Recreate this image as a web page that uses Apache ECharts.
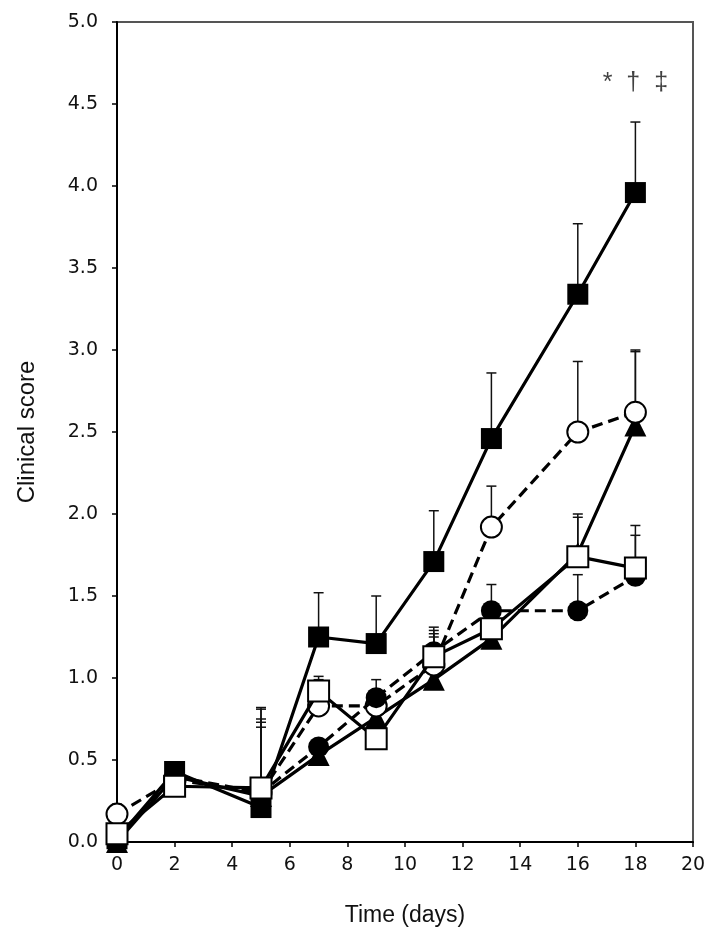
<!DOCTYPE html>
<html>
<head>
<meta charset="utf-8">
<script src="https://cdn.jsdelivr.net/npm/echarts@6/dist/echarts.min.js"></script>
<style>
html,body{margin:0;padding:0;background:#fff;}
#chart{width:719px;height:948px;}
</style>
</head>
<body>
<div id="chart"></div>
<script>
// ---- data ----
var days = [0, 2, 5, 7, 9, 11, 13, 16, 18];
var xTicks = [0, 2, 4, 6, 8, 10, 12, 14, 16, 18, 20];
var yTicks = [0.0, 0.5, 1.0, 1.5, 2.0, 2.5, 3.0, 3.5, 4.0, 4.5, 5.0];

var filledTriangle = [0.00, 0.40, 0.28, 0.53, 0.76, 0.99, 1.24, 1.76, 2.54];
var filledTriangleUpper = [null, null, 0.73, null, null, 1.25, null, 1.98, 2.99];

var filledSquare = [0.02, 0.43, 0.21, 1.25, 1.21, 1.71, 2.46, 3.34, 3.96];
var filledSquareUpper = [null, null, 0.82, 1.52, 1.50, 2.02, 2.86, 3.77, 4.39];

var openCircle = [0.17, 0.38, 0.30, 0.83, 0.83, 1.08, 1.92, 2.50, 2.62];
var openCircleUpper = [0.23, null, 0.81, 0.99, null, 1.31, 2.17, 2.93, 3.00];

var filledCircle = [0.02, 0.40, 0.30, 0.58, 0.88, 1.16, 1.41, 1.41, 1.62];
var filledCircleUpper = [null, null, 0.75, null, 0.99, 1.29, 1.57, 1.63, 1.87];

var openSquare = [0.05, 0.34, 0.33, 0.92, 0.63, 1.13, 1.30, 1.74, 1.67];
var openSquareUpper = [null, null, 0.70, 1.01, 0.70, 1.27, null, 2.00, 1.93];

var significance = '*  †  ‡';
var significanceAt = [18, 4.63];

// ---- build ----
var FONT = '"Liberation Sans", Arial, Helvetica, sans-serif';
var TICKFONT = '"DejaVu Sans", "Liberation Sans", Arial, sans-serif';

function pairs(vals) {
  return days.map(function (d, i) { return [d, vals[i]]; });
}
function errData(vals, upper) {
  var out = [];
  days.forEach(function (d, i) {
    if (upper[i] != null) out.push([d, vals[i], upper[i]]);
  });
  return out;
}
function errSeries(vals, upper, z) {
  return {
    type: 'custom',
    z: z,
    silent: true,
    encode: { x: 0, y: [1, 2] },
    data: errData(vals, upper),
    renderItem: function (params, api) {
      var x = api.value(0);
      var p0 = api.coord([x, api.value(1)]);
      var p1 = api.coord([x, api.value(2)]);
      var hw = 5;
      var st = { stroke: '#111', lineWidth: 1.5 };
      return {
        type: 'group',
        children: [
          { type: 'line', shape: { x1: p0[0], y1: p0[1], x2: p1[0], y2: p1[1] }, style: st },
          { type: 'line', shape: { x1: p1[0] - hw, y1: p1[1], x2: p1[0] + hw, y2: p1[1] }, style: st }
        ]
      };
    }
  };
}
function lineSeries(name, vals, symbol, filled, dashed, z) {
  return {
    name: name,
    type: 'line',
    z: z,
    data: pairs(vals),
    symbol: symbol,
    symbolSize: symbol === 'triangle' ? 22 : 21,
    showAllSymbol: true,
    lineStyle: { color: '#000', width: 3.2, type: dashed ? [11, 6] : 'solid' },
    itemStyle: {
      color: filled ? '#000' : '#fff',
      borderColor: '#000',
      borderWidth: filled ? 0 : 2,
      opacity: 1
    },
    emphasis: { disabled: true },
    animation: false
  };
}

var series = [
  errSeries(filledTriangle, filledTriangleUpper, 1),
  errSeries(filledSquare, filledSquareUpper, 1),
  errSeries(openCircle, openCircleUpper, 1),
  errSeries(filledCircle, filledCircleUpper, 1),
  errSeries(openSquare, openSquareUpper, 1),
  lineSeries('Triangle', filledTriangle, 'triangle', true, false, 3),
  lineSeries('Filled square', filledSquare, 'rect', true, false, 4),
  lineSeries('Open circle', openCircle, 'circle', false, true, 5),
  lineSeries('Filled circle', filledCircle, 'circle', true, true, 6),
  lineSeries('Open square', openSquare, 'rect', false, false, 7),
  {
    type: 'scatter',
    z: 8,
    silent: true,
    symbolSize: 0,
    data: [significanceAt],
    label: {
      show: true,
      position: 'inside',
      formatter: significance,
      color: '#111',
      fontSize: 25,
      fontFamily: FONT
    }
  }
];

var chart = echarts.init(document.getElementById('chart'), null, { renderer: 'canvas' });
chart.setOption({
  animation: false,
  backgroundColor: '#fff',
  grid: {
    left: 117, right: 26, top: 22, bottom: 106,
    show: true, borderColor: '#555', borderWidth: 2, backgroundColor: 'transparent'
  },
  xAxis: {
    type: 'value',
    min: xTicks[0], max: xTicks[xTicks.length - 1], interval: 2,
    name: 'Time (days)',
    nameLocation: 'middle',
    nameGap: 62,
    nameTextStyle: { fontSize: 23, color: '#111', fontFamily: FONT },
    axisLine: { show: true, onZero: false, lineStyle: { color: '#000', width: 2 } },
    axisTick: { show: true, inside: false, length: 5, lineStyle: { color: '#000', width: 1.5 } },
    axisLabel: { fontSize: 19, color: '#111', fontFamily: TICKFONT, margin: 14 },
    splitLine: { show: false }
  },
  yAxis: {
    type: 'value',
    min: yTicks[0], max: yTicks[yTicks.length - 1], interval: 0.5,
    name: 'Clinical score',
    nameLocation: 'middle',
    nameGap: 78,
    nameRotate: 90,
    nameTextStyle: { fontSize: 24, color: '#111', fontFamily: FONT },
    axisLine: { show: true, onZero: false, lineStyle: { color: '#000', width: 2 } },
    axisTick: { show: true, inside: false, length: 5, lineStyle: { color: '#000', width: 1.5 } },
    axisLabel: { fontSize: 19, color: '#111', fontFamily: TICKFONT, margin: 19,
      formatter: function (v) { return v.toFixed(1); } },
    splitLine: { show: false }
  },
  series: series
});
</script>
</body>
</html>
